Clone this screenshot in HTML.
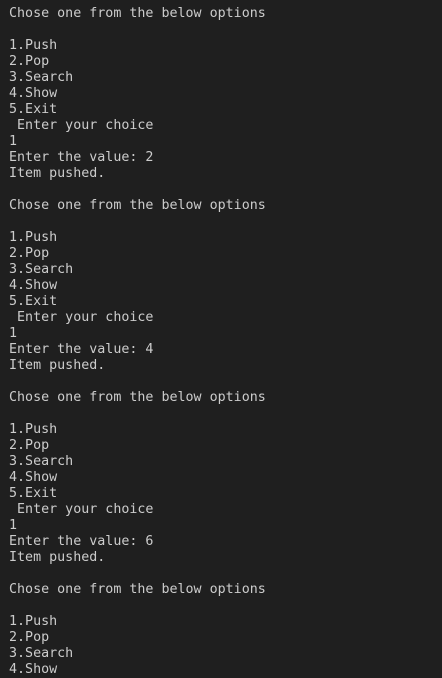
<!DOCTYPE html>
<html><head><style>
html,body{margin:0;padding:0;background:#1f1f1f;width:442px;height:678px;overflow:hidden}
pre{margin:0;padding:6px 0 0 9px;font-family:"DejaVu Sans Mono","Liberation Mono",monospace;font-size:13.33px;line-height:16px;color:#cccccc}
</style></head><body><pre>Chose one from the below options

1.Push
2.Pop
3.Search
4.Show
5.Exit
 Enter your choice
1
Enter the value: 2
Item pushed.

Chose one from the below options

1.Push
2.Pop
3.Search
4.Show
5.Exit
 Enter your choice
1
Enter the value: 4
Item pushed.

Chose one from the below options

1.Push
2.Pop
3.Search
4.Show
5.Exit
 Enter your choice
1
Enter the value: 6
Item pushed.

Chose one from the below options

1.Push
2.Pop
3.Search
4.Show
</pre></body></html>
